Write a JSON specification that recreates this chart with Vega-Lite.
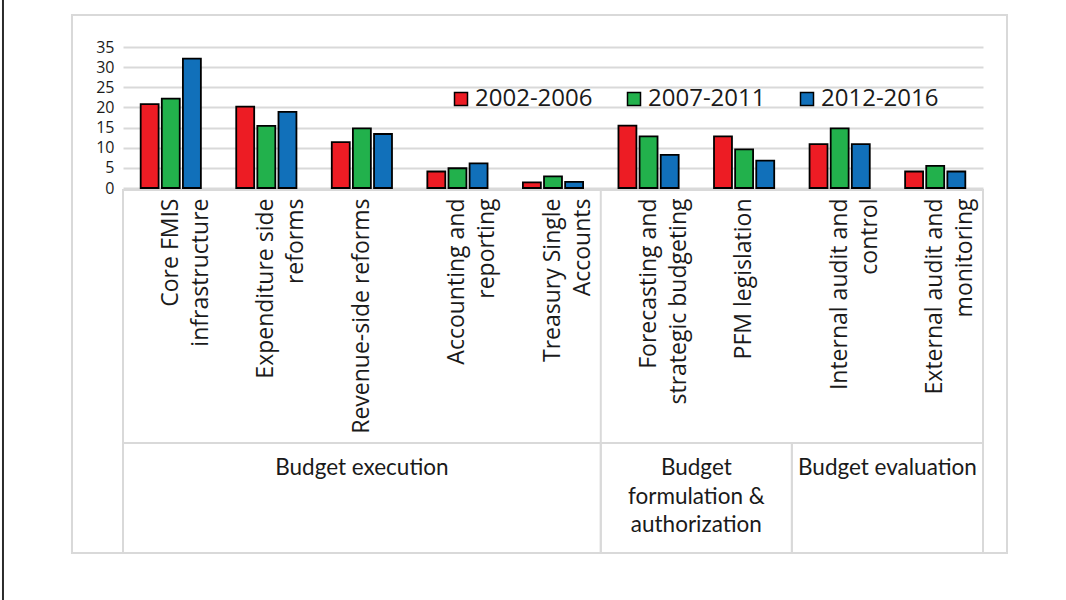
{
  "$schema": "https://vega.github.io/schema/vega-lite/v6.json",
  "width": 860,
  "height": 141,
  "autosize": {"type": "none"},
  "padding": {"left": 123, "top": 47, "right": 83, "bottom": 412},
  "background": "white",
  "config": {"view": {"stroke": null}, "font": "Open Sans"},
  "datasets": {
    "bars": [
      {"category": "Core FMIS\ninfrastructure", "group": "Budget execution", "period": "2002-2006", "value": 20.8},
      {"category": "Core FMIS\ninfrastructure", "group": "Budget execution", "period": "2007-2011", "value": 22.2},
      {"category": "Core FMIS\ninfrastructure", "group": "Budget execution", "period": "2012-2016", "value": 32.1},
      {"category": "Expenditure side\nreforms", "group": "Budget execution", "period": "2002-2006", "value": 20.2},
      {"category": "Expenditure side\nreforms", "group": "Budget execution", "period": "2007-2011", "value": 15.4},
      {"category": "Expenditure side\nreforms", "group": "Budget execution", "period": "2012-2016", "value": 18.9},
      {"category": "Revenue-side reforms", "group": "Budget execution", "period": "2002-2006", "value": 11.4},
      {"category": "Revenue-side reforms", "group": "Budget execution", "period": "2007-2011", "value": 14.8},
      {"category": "Revenue-side reforms", "group": "Budget execution", "period": "2012-2016", "value": 13.4},
      {"category": "Accounting and\nreporting", "group": "Budget execution", "period": "2002-2006", "value": 4.1},
      {"category": "Accounting and\nreporting", "group": "Budget execution", "period": "2007-2011", "value": 4.9},
      {"category": "Accounting and\nreporting", "group": "Budget execution", "period": "2012-2016", "value": 6.1},
      {"category": "Treasury Single\nAccounts", "group": "Budget execution", "period": "2002-2006", "value": 1.4},
      {"category": "Treasury Single\nAccounts", "group": "Budget execution", "period": "2007-2011", "value": 2.9},
      {"category": "Treasury Single\nAccounts", "group": "Budget execution", "period": "2012-2016", "value": 1.5},
      {"category": "Forecasting and\nstrategic budgeting", "group": "Budget formulation & authorization", "period": "2002-2006", "value": 15.5},
      {"category": "Forecasting and\nstrategic budgeting", "group": "Budget formulation & authorization", "period": "2007-2011", "value": 12.8},
      {"category": "Forecasting and\nstrategic budgeting", "group": "Budget formulation & authorization", "period": "2012-2016", "value": 8.2},
      {"category": "PFM legislation", "group": "Budget formulation & authorization", "period": "2002-2006", "value": 12.8},
      {"category": "PFM legislation", "group": "Budget formulation & authorization", "period": "2007-2011", "value": 9.6},
      {"category": "PFM legislation", "group": "Budget formulation & authorization", "period": "2012-2016", "value": 6.8},
      {"category": "Internal audit and\ncontrol", "group": "Budget evaluation", "period": "2002-2006", "value": 10.9},
      {"category": "Internal audit and\ncontrol", "group": "Budget evaluation", "period": "2007-2011", "value": 14.8},
      {"category": "Internal audit and\ncontrol", "group": "Budget evaluation", "period": "2012-2016", "value": 10.9},
      {"category": "External audit and\nmonitoring", "group": "Budget evaluation", "period": "2002-2006", "value": 4.1},
      {"category": "External audit and\nmonitoring", "group": "Budget evaluation", "period": "2007-2011", "value": 5.5},
      {"category": "External audit and\nmonitoring", "group": "Budget evaluation", "period": "2012-2016", "value": 4.1}
    ],
    "groups": [
      {"group": "Budget execution", "label": "Budget execution", "start": 0, "end": 5, "mid": 2.5},
      {"group": "Budget formulation & authorization", "label": "Budget\nformulation &\nauthorization", "start": 5, "end": 7, "mid": 6},
      {"group": "Budget evaluation", "label": "Budget evaluation", "start": 7, "end": 9, "mid": 8}
    ]
  },
  "layer": [
    {
      "data": {"name": "bars"},
      "mark": {"type": "bar", "stroke": "black", "strokeWidth": 1.8},
      "encoding": {
        "x": {
          "field": "category",
          "type": "nominal",
          "sort": null,
          "scale": {"paddingInner": 0.37, "paddingOuter": 0.185},
          "axis": {
            "title": null,
            "domain": false,
            "ticks": false,
            "tickSize": 0,
            "labelAngle": 270,
            "labelAlign": "right",
            "labelBaseline": "middle",
            "labelExpr": "split(datum.label, '\\n')",
            "labelLineHeight": 30,
            "labelFontSize": 23,
            "labelFont": "Open Sans",
            "labelColor": "#1a1a1a",
            "labelPadding": 10,
            "labelLimit": 400,
            "labelOverlap": false
          }
        },
        "xOffset": {"field": "period", "type": "nominal", "scale": {"paddingInner": 0.15}},
        "y": {
          "field": "value",
          "type": "quantitative",
          "scale": {"domain": [0, 35], "nice": false},
          "axis": {
            "title": null,
            "values": [0, 5, 10, 15, 20, 25, 30, 35],
            "domain": false,
            "ticks": false,
            "tickSize": 0,
            "grid": true,
            "gridColor": "#d9d9d9",
            "gridWidth": 2,
            "labelOverlap": false,
            "labelFontSize": 16,
            "labelFont": "Open Sans",
            "labelColor": "#1a1a1a",
            "labelPadding": 9
          }
        },
        "color": {
          "field": "period",
          "type": "nominal",
          "scale": {"domain": ["2002-2006", "2007-2011", "2012-2016"], "range": ["#ED1C24", "#22B14C", "#1170BA"]},
          "legend": {
            "title": null,
            "orient": "none",
            "direction": "horizontal",
            "legendX": 326,
            "legendY": 40,
            "padding": 0,
            "symbolType": "square",
            "symbolSize": 169,
            "symbolStrokeColor": "black",
            "symbolStrokeWidth": 1.5,
            "symbolOpacity": 1,
            "labelFontSize": 24,
            "labelFont": "Open Sans",
            "labelColor": "#1a1a1a",
            "labelOffset": 2,
            "columnPadding": 29
          }
        }
      }
    },
    {
      "layer": [
        {
          "data": {"values": [{}]},
          "mark": {"type": "rect", "fill": null, "stroke": "#d9d9d9", "strokeWidth": 2},
          "encoding": {
            "x": {"datum": -0.534, "type": "quantitative", "scale": {"domain": [0, 9], "nice": false, "zero": false}, "axis": null},
            "x2": {"datum": 9.251},
            "y": {"datum": 42.94, "type": "quantitative", "axis": null},
            "y2": {"datum": -90.6}
          }
        },
        {
          "data": {"values": [{}]},
          "mark": {"type": "rule", "stroke": "#2b2b2b", "strokeWidth": 2},
          "encoding": {
            "x": {"datum": -1.256, "type": "quantitative", "scale": {"domain": [0, 9], "nice": false, "zero": false}, "axis": null},
            "y": {"datum": 46.7, "type": "quantitative", "axis": null},
            "y2": {"datum": -102.7}
          }
        },
        {
          "data": {"values": [{}]},
          "mark": {"type": "rect", "fill": null, "stroke": "#d9d9d9", "strokeWidth": 2},
          "encoding": {
            "x": {"datum": 0, "type": "quantitative", "scale": {"domain": [0, 9], "nice": false, "zero": false}, "axis": null},
            "x2": {"datum": 9},
            "y": {"datum": -0.5, "type": "quantitative", "axis": null},
            "y2": {"datum": -63.3}
          }
        },
        {
          "data": {"values": [{}]},
          "mark": {"type": "rule", "stroke": "#d9d9d9", "strokeWidth": 2},
          "encoding": {
            "x": {"datum": 5, "type": "quantitative", "scale": {"domain": [0, 9], "nice": false, "zero": false}, "axis": null},
            "y": {"datum": -0.5, "type": "quantitative", "axis": null},
            "y2": {"datum": -63.3}
          }
        },
        {
          "data": {"name": "groups"},
          "mark": {"type": "rect", "fill": null, "stroke": "#d9d9d9", "strokeWidth": 2},
          "encoding": {
            "x": {"field": "start", "type": "quantitative", "scale": {"domain": [0, 9], "nice": false, "zero": false}, "axis": null},
            "x2": {"field": "end"},
            "y": {"datum": -63.3, "type": "quantitative", "axis": null},
            "y2": {"datum": -90.6}
          }
        },
        {
          "data": {"name": "groups"},
          "mark": {"type": "text", "font": "Lato", "fontSize": 22.5, "lineBreak": "\n", "lineHeight": 28.5, "baseline": "top", "align": "center", "dy": 14, "color": "#1a1a1a"},
          "encoding": {
            "x": {"field": "mid", "type": "quantitative", "scale": {"domain": [0, 9], "nice": false, "zero": false}, "axis": null},
            "y": {"datum": -63.3, "type": "quantitative", "axis": null},
            "text": {"field": "label"}
          }
        }
      ],
      "resolve": {"axis": {"y": "independent"}}
    }
  ],
  "resolve": {"scale": {"x": "independent"}, "axis": {"y": "independent"}}
}
